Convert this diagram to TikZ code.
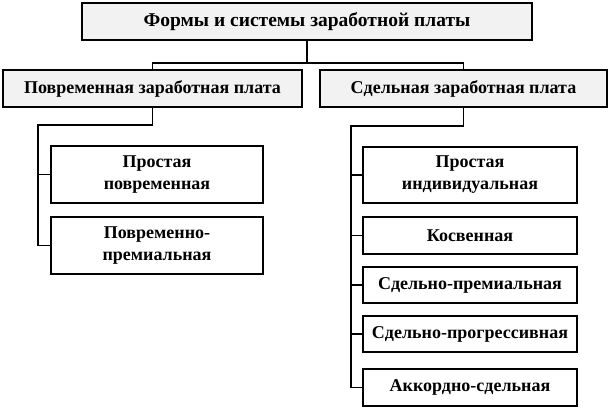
\documentclass[tikz,border=0pt]{standalone}
\usepackage{fontspec}
\setmainfont{Liberation Serif}
\usepackage{tikz}
\usepackage{xcolor}
\usetikzlibrary{calc}
\definecolor{headfill}{RGB}{242,242,242}

\begin{document}
\begin{tikzpicture}[x=1pt, y=-1pt, line width=1.6pt,
    box/.style={draw, inner sep=0pt, align=center, font=\bfseries\fontsize{18}{22}\selectfont},
    head/.style={box, fill=headfill}]
    \useasboundingbox (0,0) rectangle (611,409);

    % Top box
    \node[head, minimum width=450pt, minimum height=37pt, font=\bfseries\fontsize{19.5}{22}\selectfont] (forms) at (307,21.5) {Формы и системы заработной платы};

    % Two main forms
    \node[head, minimum width=299pt, minimum height=37pt] (time) at (152.5,88.5) {Повременная заработная плата};
    \node[head, minimum width=287pt, minimum height=37pt] (piece) at (463.5,88.5) {Сдельная заработная плата};
    \draw (forms.south) -- ++(0,22) -| (time.north);
    \draw (forms.south) -- ++(0,22) -| (piece.north);

    % Time-based systems
    \node[box, minimum width=212pt, minimum height=57pt] (time1) at (157,174.5) {Простая\\повременная};
    \node[box, minimum width=212pt, minimum height=57pt] (time2) at (157,245.5) {Повременно-\\премиальная};
    \coordinate (tbus) at (38,125);
    \draw (time.south) |- (tbus) |- (time2.west);
    \draw (time1.west) -- (time1.west -| tbus);

    % Piece-rate systems
    \node[box, minimum width=214pt, minimum height=56pt] (piece1) at (470,175) {Простая\\индивидуальная};
    \node[box, minimum width=214pt, minimum height=37pt] (piece2) at (470,235.5) {Косвенная};
    \node[box, minimum width=214pt, minimum height=36pt] (piece3) at (470,285) {Сдельно-премиальная};
    \node[box, minimum width=214pt, minimum height=36pt] (piece4) at (470,334) {Сдельно-прогрессивная};
    \node[box, minimum width=214pt, minimum height=37pt] (piece5) at (470,387.5) {Аккордно-сдельная};
    \coordinate (pbus) at (351,126);
    \draw (piece.south) |- (pbus) |- (piece5.west);
    \foreach \n in {piece1,piece2,piece3,piece4}
        \draw (\n.west) -- (\n.west -| pbus);
\end{tikzpicture}
\end{document}
